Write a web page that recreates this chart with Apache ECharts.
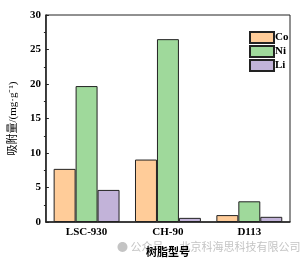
<!DOCTYPE html>
<html>
<head>
<meta charset="utf-8">
<script src="https://cdn.jsdelivr.net/npm/echarts@6/dist/echarts.min.js"></script>
<style>
  html, body { margin: 0; padding: 0; background: #fff; }
  #chart { width: 308px; height: 263px; }
</style>
</head>
<body>
<div id="chart"></div>
<script>
// 树脂型号
var categories = ['LSC-930', 'CH-90', 'D113'];
// 吸附量 (mg/g)
var coValues = [7.7, 9.05, 1.0];
var niValues = [19.7, 26.5, 3.0];
var liValues = [4.65, 0.6, 0.75];

var serif = '"Liberation Serif", "Times New Roman", serif';
var mixed = '"Liberation Serif", "Noto Sans CJK SC", serif';
var cjk = '"Noto Sans CJK SC", sans-serif';

var chart = echarts.init(document.getElementById('chart'));

function barSeries(name, data, color) {
  return {
    name: name,
    type: 'bar',
    data: data,
    barGap: 0,
    barCategoryGap: '19%',
    itemStyle: { color: color, borderColor: '#222', borderWidth: 1 }
  };
}

var option = {
  animation: false,
  backgroundColor: '#fff',
  grid: {
    left: 37, right: 18, top: 15, bottom: 41,
    show: true, borderColor: '#222', borderWidth: 1
  },
  legend: {
    orient: 'vertical',
    left: 244, top: 26,
    icon: 'rect',
    itemWidth: 24, itemHeight: 11, itemGap: 1,
    textStyle: { fontFamily: serif, fontWeight: 'bold', fontSize: 11, color: '#000', padding: [0, 0, 0, -4] },
    data: ['Co', 'Ni', 'Li']
  },
  xAxis: {
    type: 'category',
    data: categories,
    name: '树脂型号',
    nameLocation: 'middle',
    nameGap: 24,
    nameTextStyle: { fontFamily: cjk, fontWeight: 'bold', fontSize: 11, color: '#000' },
    axisLine: { lineStyle: { color: '#222', width: 1.5 } },
    axisTick: { show: false },
    axisLabel: { fontFamily: serif, fontWeight: 'bold', fontSize: 11, color: '#000', margin: 5 }
  },
  yAxis: {
    type: 'value',
    min: 0, max: 30, interval: 5,
    name: '吸附量/(mg·g⁻¹)',
    nameLocation: 'middle',
    nameGap: 20,
    nameTextStyle: { fontFamily: mixed, fontSize: 11, color: '#000' },
    axisLine: { show: true, lineStyle: { color: '#222', width: 1.5 } },
    axisTick: { show: true, inside: true, length: 3, lineStyle: { color: '#222' } },
    minorTick: { show: true, splitNumber: 2, length: -2, lineStyle: { color: '#222' } },
    splitLine: { show: false },
    axisLabel: { fontFamily: serif, fontWeight: 'bold', fontSize: 11, color: '#000', margin: 5 }
  },
  graphic: [{
    type: 'text',
    left: 117, top: 241,
    z: -1,
    style: {
      text: '● 公众号 · 北京科海思科技有限公司',
      fill: '#c4c4c4',
      font: '11px "Noto Sans CJK SC", sans-serif'
    }
  }],
  series: [
    barSeries('Co', coValues, '#ffcc99'),
    barSeries('Ni', niValues, '#9fd99b'),
    barSeries('Li', liValues, '#c2b3d9')
  ]
};

chart.setOption(option);
</script>
</body>
</html>
